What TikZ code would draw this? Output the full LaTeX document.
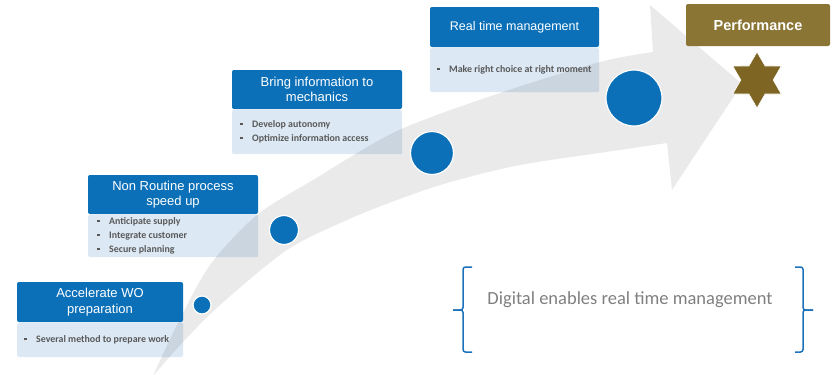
\documentclass[tikz,border=0pt]{standalone}
\usepackage{fontspec}
\setmainfont{Liberation Sans}
\newfontfamily\calibri{Carlito}
\definecolor{hblue}{HTML}{0B70B8}
\definecolor{bodyblue}{HTML}{DCE8F4}
\definecolor{bodydark}{HTML}{CAD5E0}
\definecolor{agray}{HTML}{EAEAEA}
\definecolor{tgray}{HTML}{595959}
\definecolor{olivebox}{HTML}{8A7535}
\definecolor{starcol}{HTML}{7E6524}
\definecolor{brblue}{HTML}{1B72BA}
\definecolor{dgray}{HTML}{7F7F7F}
\newcommand{\bsq}{\textcolor{tgray}{\rule[2.2pt]{2.6pt}{2.6pt}}\hspace{9.4pt}}
\tikzset{
  hdr/.style={fill=hblue, rounded corners=2pt, text=white, align=center, inner sep=0pt,
    font=\fontsize{13}{15.7}\selectfont},
  hdrsmall/.style={hdr, font=\fontsize{12.5}{15}\selectfont},
  bodyb/.style={fill=bodyblue, rounded corners=2pt, inner sep=0pt},
  bul/.style={anchor=west, inner sep=0pt, text=tgray,
    font=\calibri\bfseries\fontsize{9.9}{11.5}\selectfont, text height=7pt, text depth=2pt},
  dot/.style={circle, fill=hblue, draw=white, line width=1.2pt, inner sep=0pt},
  bracket/.style={draw=brblue, line width=1.5pt, rounded corners=2.5pt},
  arrowshape/.style={insert path={
    plot[smooth] coordinates {(153,376) (177,325) (210,265) (257,215) (313,180) (397,131) (497,94) (600,62) (653,52)}
    -- (650,5) -- (742,84) -- (672,190) -- (667,143)
    -- plot[smooth] coordinates {(667,143) (620,150) (520,165) (447,183) (397,200) (347,220) (287,250) (220,305) (183,342) (153,376)}
    -- cycle}}
}
\begin{document}
\begin{tikzpicture}[x=1pt,y=-1pt]
\useasboundingbox (0,0) rectangle (836,375);
% big curved arrow
\fill[agray, arrowshape];

% body boxes
\node[bodyb, minimum width=166pt, minimum height=34pt] (b1) at (100,340) {};
\node[bodyb, minimum width=170pt, minimum height=42pt] (b2) at (173,236) {};
\node[bodyb, minimum width=170pt, minimum height=44pt] (b3) at (317,132) {};
\node[bodyb, minimum width=169pt, minimum height=44pt] (b4) at (514.5,70) {};
\begin{scope}
  \clip[arrowshape];
  \foreach \b in {b1,b2,b3,b4}
    \fill[bodydark, rounded corners=2pt] (\b.north west) rectangle (\b.south east);
\end{scope}

% header boxes
\node[hdr, minimum width=166pt, minimum height=40pt] (h1) at (100,302) {Accelerate WO\\preparation};
\node[hdr, minimum width=170pt, minimum height=39pt] (h2) at (173,194.5) {Non Routine process\\speed up};
\node[hdr, minimum width=170pt, minimum height=39pt] (h3) at (317,89.5) {Bring information to\\mechanics};
\node[hdrsmall, minimum width=169pt, minimum height=40pt] (h4) at (514.5,27) {Real time management};

% bullet texts
\node[bul] (t1a) at (24,340) {\bsq Several method to prepare work};
\node[bul] (t2a) at (97,222) {\bsq Anticipate supply};
\node[bul] (t2b) at (97,236) {\bsq Integrate customer};
\node[bul] (t2c) at (97,250) {\bsq Secure planning};
\node[bul] (t3a) at (240,125) {\bsq Develop autonomy};
\node[bul] (t3b) at (240,139) {\bsq Optimize information access};
\node[bul] (t4a) at (437,70) {\bsq Make right choice at right moment};

% circles
\node[dot, minimum size=18pt] (c1) at (202,305) {};
\node[dot, minimum size=29pt] (c2) at (284,230) {};
\node[dot, minimum size=43pt] (c3) at (432,153) {};
\node[dot, minimum size=56pt] (c4) at (634,98) {};

% performance
\node[fill=olivebox, rounded corners=2pt, minimum width=144pt, minimum height=42pt, inner sep=0pt,
  text=white, font=\bfseries\fontsize{14.5}{17}\selectfont] (perf) at (758,25) {Performance};
\begin{scope}[shift={(757,80)}]
  \fill[starcol, draw=white, line width=0.6pt] (90:28) -- (120:16.17) -- (150:28) -- (180:16.17)
    -- (210:28) -- (240:16.17) -- (270:28) -- (300:16.17) -- (330:28) -- (0:16.17)
    -- (30:28) -- (60:16.17) -- cycle;
\end{scope}

% brackets and statement
\draw[bracket] (472,267) -| (463,310) -- (453,310);
\draw[bracket] (472,352) -| (463,310) -- (453,310);
\draw[bracket] (795,267) -| (803,310) -- (813,310);
\draw[bracket] (795,352) -| (803,310) -- (813,310);
\node[text=dgray, inner sep=0pt, font=\calibri\fontsize{18.5}{22}\selectfont] (dig) at (630,300) {Digital enables real time management};
\end{tikzpicture}
\end{document}
